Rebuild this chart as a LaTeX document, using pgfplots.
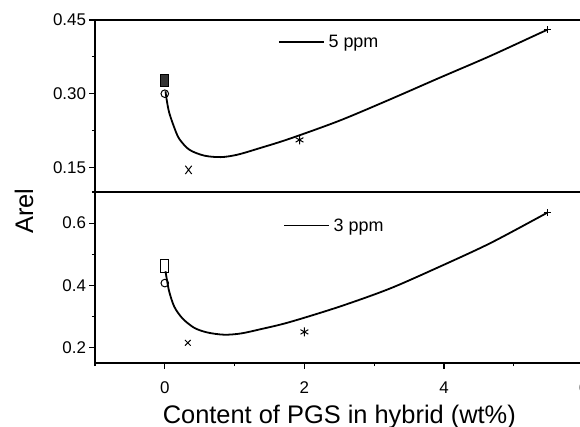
\documentclass[border=0pt]{standalone}
\usepackage{fontspec}
\setmainfont{Liberation Sans}
\usepackage{pgfplots}
\pgfplotsset{compat=1.18}
\begin{document}
\begin{tikzpicture}
\pgfplotsset{
 common/.style={
  scale only axis, width=488.6bp, xmin=-1, xmax=6,
  axis line style={line width=1.6bp},
  every tick/.style={line width=1.1bp, black},
  major tick length=5.5bp, minor tick length=3bp,
  tick align=outside, ytick pos=left,
  /pgf/number format/assume math mode=true,
  ticklabel style={font=\fontsize{17}{20}\selectfont},
  legend style={draw=none, fill=none, inner sep=0pt, column sep=2bp, font=\fontsize{18}{21}\selectfont},
  legend image code/.code={\draw[line width=1.4bp] (0bp,0bp) -- (45bp,0bp);},
 },
 curve/.style={black, line width=1.8bp, smooth, no marks},
 pts/.style={black, only marks, forget plot, line width=1bp},
}
\begin{axis}[common, name=bot, height=171bp,
  ymin=0.15, ymax=0.70, ytick={0.2,0.4,0.6}, minor ytick={0.3,0.5,0.7},
  xtick={0,2,4,6}, minor xtick={-1,1,3,5}, xtick pos=bottom,
  xticklabel style={anchor=base, yshift=-25bp},
  xlabel={Content of PGS in hybrid (wt\%)},
  xlabel style={at={(axis description cs:0.5,0)}, anchor=base, yshift=-60bp, font=\fontsize{25.5}{30}\selectfont},
  ylabel={Arel},
  ylabel style={at={(axis description cs:-0.1453,0.889)}, anchor=center, font=\fontsize{25.5}{30}\selectfont},
  legend style={at={(axis description cs:0.385,0.803)}, anchor=west},
]
\coordinate (bl) at (rel axis cs:0,0);
\addplot[curve] coordinates {(0.01,0.445) (0.03,0.418) (0.064,0.379) (0.136,0.331) (0.255,0.293) (0.423,0.263) (0.613,0.248) (0.852,0.241) (1.09,0.245) (1.378,0.259) (1.78,0.281) (2.5,0.331) (3.22,0.389) (3.93,0.459) (4.65,0.534) (5.37,0.620) (5.48,0.634)};
\addlegendentry{3 ppm}
\addplot[pts, mark=square, mark size=3.9bp, mark options={yscale=1.65}] coordinates {(0,0.462)};
\addplot[pts, mark=o, mark size=3.8bp] coordinates {(0,0.407)};
\addplot[pts, mark=x, mark size=4bp] coordinates {(0.33,0.215)};
\addplot[pts, mark=asterisk, mark size=4.5bp] coordinates {(2.0,0.250)};
\addplot[pts, mark=+, mark size=3.5bp] coordinates {(5.48,0.634)};
\end{axis}
\begin{axis}[common, at={(bot.north west)}, anchor=south west, height=172bp,
  ymin=0.10, ymax=0.45, ytick={0.15,0.30,0.45}, yticklabels={0.15,0.30,0.45},
  minor ytick={0.225,0.375}, xtick=\empty,
  legend style={at={(axis description cs:0.3745,0.872)}, anchor=west},
]
\addplot[curve] coordinates {(0.01,0.305) (0.03,0.285) (0.064,0.261) (0.136,0.231) (0.208,0.208) (0.352,0.186) (0.566,0.174) (0.805,0.171) (1.043,0.176) (1.378,0.190) (1.78,0.208) (2.50,0.245) (3.22,0.288) (3.93,0.332) (4.65,0.376) (5.37,0.423) (5.48,0.430)};
\addlegendentry{5 ppm}
\addplot[pts, mark=square*, mark size=3.9bp, fill=black!80, mark options={yscale=1.5}] coordinates {(0,0.327)};
\addplot[pts, mark=o, mark size=3.8bp] coordinates {(0,0.300)};
\addplot[pts, mark=x, mark size=4.5bp, mark options={yscale=1.3}] coordinates {(0.34,0.145)};
\addplot[pts, mark=asterisk, mark size=4.5bp] coordinates {(1.93,0.206)};
\addplot[pts, mark=+, mark size=3.5bp] coordinates {(5.48,0.430)};
\end{axis}
\pgfresetboundingbox
\path[use as bounding box] ([shift={(-95bp,-64bp)}]bl) rectangle ([shift={(485bp,363bp)}]bl);
\end{tikzpicture}
\end{document}
